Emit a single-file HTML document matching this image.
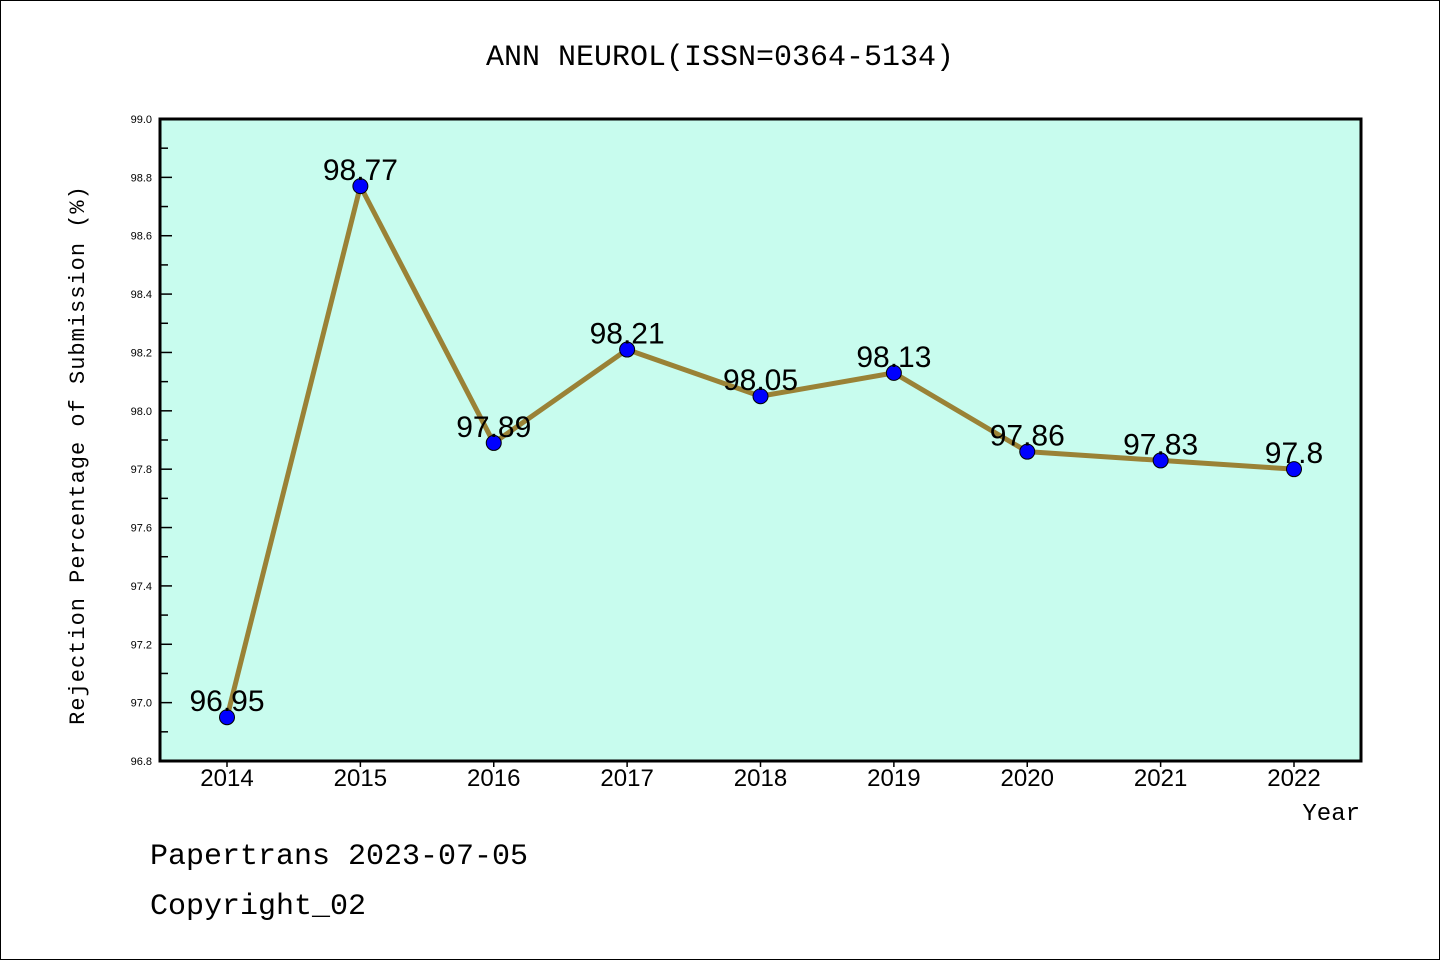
<!DOCTYPE html>
<html><head><meta charset="utf-8"><style>
body{margin:0;background:#fff}
svg{display:block;font-family:"Liberation Sans","WenQuanYi Zen Hei",sans-serif}
</style></head><body>
<svg id="c" width="1440" height="960" viewBox="0 0 1440 960">
<rect x="0.5" y="0.5" width="1439" height="959" fill="#fff" stroke="#000"/>
<text x="720" y="65" font-size="30" text-anchor="middle" font-family="'Liberation Mono','WenQuanYi Zen Hei',monospace">ANN NEUROL(ISSN=0364-5134)</text>
<rect x="160" y="119" width="1201" height="642" fill="#c8fcee"/>
<g id="ticks"></g>
<g id="marks"></g>
<rect x="160" y="119" width="1201" height="642" fill="none" stroke="#000" stroke-width="3"/>
<text transform="translate(84,455) rotate(-90)" font-size="22" text-anchor="middle" font-family="'Liberation Mono',monospace" letter-spacing="1">Rejection Percentage of Submission (%)</text>
<text x="1360" y="820" font-size="24" text-anchor="end" font-family="'Liberation Mono',monospace">Year</text>
<text x="150" y="864" font-size="30" font-family="'Liberation Mono',monospace">Papertrans 2023-07-05</text>
<text x="150" y="914" font-size="30" font-family="'Liberation Mono',monospace">Copyright_02</text>
</svg>
<script>
const years=["2014","2015","2016","2017","2018","2019","2020","2021","2022"];
const values=[96.95,98.77,97.89,98.21,98.05,98.13,97.86,97.83,97.8];
const valueLabels=["96.95","98.77","97.89","98.21","98.05","98.13","97.86","97.83","97.8"];
const yTicks=["96.8","97.0","97.2","97.4","97.6","97.8","98.0","98.2","98.4","98.6","98.8","99.0"];
const NS="http://www.w3.org/2000/svg";
const yMin=96.8,yMax=99.0,plotTop=119,plotBot=761;
function yScale(v){return plotBot-(v-yMin)/(yMax-yMin)*(plotBot-plotTop);}
function xScale(i){return 227+i*(1294-227)/(years.length-1);}
function mk(t,a,p){const e=document.createElementNS(NS,t);for(const k in a)e.setAttribute(k,a[k]);p.appendChild(e);return e;}
const tg=document.getElementById('ticks'),mg=document.getElementById('marks');
yTicks.forEach(t=>{const v=parseFloat(t),yy=yScale(v);
 const l=mk('line',{x1:160,x2:172,y1:yy,y2:yy,stroke:'#000','stroke-width':1.5},tg);
 
 
 const tx=mk('text',{x:152,y:yy+4,'font-size':11,'text-anchor':'end'},tg);tx.textContent=t;
 
 
 if(v<yMax-0.01){const m=yScale(v+0.1);const ml=mk('line',{x1:160,x2:168,y1:m,y2:m,stroke:'#000','stroke-width':1.5},tg);
  
  }
});
years.forEach((yr,i)=>{const xx=xScale(i);
 const l=mk('line',{x1:xx,x2:xx,y1:761,y2:767,stroke:'#000','stroke-width':1.5},tg);
 
 
 const tx=mk('text',{x:xx,y:786,'font-size':24,'text-anchor':'middle'},tg);tx.textContent=yr;
 
 
});
const pts=values.map((v,i)=>xScale(i)+','+yScale(v)).join(' ');
const pl=mk('polyline',{points:pts,fill:'none',stroke:'#9a8236','stroke-width':5,'stroke-linejoin':'round'},mg);


values.forEach((v,i)=>{
 const c=mk('circle',{cx:xScale(i),cy:yScale(v),r:7.5,fill:'#0000ff',stroke:'#000','stroke-width':1},mg);
 
 
});
values.forEach((v,i)=>{
 const t=mk('text',{x:xScale(i),y:yScale(v)-6,'font-size':30,'text-anchor':'middle'},mg);t.textContent=valueLabels[i];
 
 
});
</script>
</body></html>
